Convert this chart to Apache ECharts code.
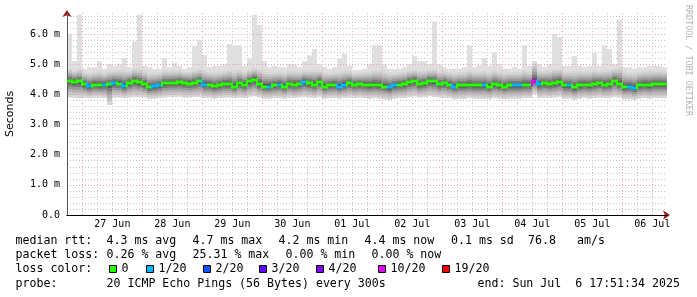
<!DOCTYPE html>
<html><head><meta charset="utf-8">
<script src="https://cdn.jsdelivr.net/npm/echarts@6/dist/echarts.min.js"></script>
<style>html,body{margin:0;padding:0;background:#fff}#c{width:697px;height:297px}</style>
</head><body><div id="c"></div>
<script>
// ---- data ----
const dayLabels = ['27 Jun','28 Jun','29 Jun','30 Jun','01 Jul','02 Jul','03 Jul','04 Jul','05 Jul','06 Jul'];
const firstMidnightH = 6.1406;   // hours from graph start (Jun 26 17:51:34) to Jun 27 00:00
const spanH = 240;               // 10 days shown
const binH = 2;                  // each column = 2 hours
const yTickValues = [0, 1, 2, 3, 4, 5, 6];
const yMax = 6.7;

const median = [
 4.45,4.41,4.43,4.33,4.27,4.32,4.30,4.32,4.33,4.38,
 4.36,4.28,4.38,4.45,4.40,4.33,4.24,4.27,4.30,4.37,
 4.38,4.38,4.40,4.38,4.36,4.38,4.43,4.32,4.32,4.27,
 4.30,4.34,4.34,4.26,4.37,4.32,4.43,4.49,4.34,4.26,
 4.26,4.30,4.32,4.26,4.34,4.32,4.34,4.41,4.37,4.32,
 4.41,4.26,4.30,4.32,4.26,4.32,4.37,4.32,4.34,4.32,
 4.30,4.32,4.30,4.26,4.23,4.30,4.32,4.34,4.41,4.45,
 4.34,4.37,4.45,4.43,4.34,4.37,4.32,4.26,4.30,4.30,
 4.32,4.30,4.30,4.30,4.26,4.34,4.30,4.26,4.30,4.30,
 4.30,4.32,4.32,4.45,4.34,4.37,4.34,4.37,4.41,4.30,
 4.30,4.23,4.30,4.32,4.30,4.34,4.37,4.32,4.34,4.45,
 4.36,4.23,4.26,4.21,4.30,4.32,4.30,4.34,4.34,4.34
];
const lossCount = [
 0,0,0,0,1,0,0,1,0,1,
 0,1,0,0,0,0,0,1,1,0,
 0,0,0,0,0,0,0,1,0,0,
 0,0,0,0,0,0,0,0,0,0,
 1,0,1,0,0,0,0,1,0,0,
 0,0,0,0,1,1,0,0,0,0,
 0,0,0,0,1,1,0,0,0,0,
 0,0,0,0,0,0,0,1,0,0,
 0,0,0,1,0,0,0,0,0,1,
 1,0,0,10,1,0,0,0,0,0,
 1,0,0,0,0,0,0,0,0,0,
 0,0,1,1,0,0,0,0,0,0
];
const smokeMax = [
 6.00,5.10,6.64,4.85,4.90,4.90,5.10,4.85,5.00,4.95,
 5.00,5.20,4.90,5.75,6.64,4.95,4.90,4.85,4.85,5.20,
 4.90,5.05,4.95,4.85,4.90,5.60,5.80,5.30,4.90,4.95,
 4.95,5.00,5.67,5.63,5.63,4.95,5.20,6.64,6.30,5.10,
 4.90,4.95,4.90,4.90,5.00,5.00,4.90,5.10,5.30,5.50,
 5.00,4.90,4.85,4.90,5.20,5.35,4.95,4.80,4.80,4.85,
 5.00,5.63,5.63,5.00,4.85,4.85,4.85,4.90,5.00,5.27,
 5.10,5.10,5.00,6.42,5.00,4.90,4.85,4.85,4.85,4.90,
 5.63,4.90,4.97,5.20,4.95,5.40,5.00,4.85,4.85,4.90,
 4.85,5.63,4.95,5.10,5.00,4.90,5.00,6.00,5.90,4.95,
 4.95,5.27,4.95,4.90,4.95,5.38,4.95,5.63,5.50,5.00,
 6.48,4.90,4.90,4.85,4.90,4.90,4.95,4.95,4.95,4.90
];
const smokeHi = [
 4.85,4.80,4.85,4.75,4.72,4.75,4.78,4.72,4.78,4.80,
 4.80,4.82,4.78,4.85,4.85,4.78,4.72,4.72,4.74,4.80,
 4.78,4.80,4.80,4.76,4.76,4.82,4.85,4.80,4.75,4.74,
 4.76,4.78,4.82,4.80,4.82,4.76,4.82,4.88,4.85,4.76,
 4.74,4.75,4.76,4.74,4.78,4.78,4.76,4.80,4.80,4.82,
 4.80,4.74,4.72,4.74,4.76,4.78,4.78,4.72,4.72,4.74,
 4.76,4.80,4.80,4.76,4.72,4.72,4.74,4.76,4.80,4.82,
 4.80,4.80,4.82,4.85,4.78,4.78,4.74,4.72,4.74,4.74,
 4.80,4.76,4.76,4.78,4.74,4.80,4.76,4.72,4.74,4.74,
 4.74,4.80,4.76,5.05,4.80,4.78,4.80,4.85,4.85,4.76,
 4.76,4.78,4.78,4.76,4.78,4.82,4.78,4.82,4.82,4.85,
 4.90,4.76,4.72,4.72,4.76,4.78,4.80,4.80,4.80,4.78
];
const smokeLo = [
 3.90,3.90,3.88,3.90,3.88,3.90,3.90,3.88,3.65,3.90,
 3.90,3.88,3.90,3.92,3.92,3.90,3.86,3.86,3.88,3.90,
 3.92,3.92,3.92,3.90,3.90,3.92,3.92,3.88,3.88,3.86,
 3.88,3.90,3.90,3.88,3.90,3.88,3.92,3.94,3.90,3.86,
 3.86,3.88,3.88,3.86,3.90,3.88,3.90,3.92,3.90,3.88,
 3.92,3.86,3.88,3.88,3.86,3.88,3.90,3.88,3.90,3.88,
 3.86,3.88,3.86,3.84,3.82,3.86,3.88,3.88,3.92,3.94,
 3.90,3.92,3.94,3.92,3.90,3.90,3.88,3.84,3.86,3.86,
 3.88,3.86,3.86,3.86,3.84,3.88,3.86,3.84,3.86,3.86,
 3.86,3.88,3.88,4.02,3.88,3.90,3.88,3.90,3.92,3.86,
 3.86,3.82,3.86,3.88,3.86,3.88,3.90,3.88,3.88,3.92,
 3.90,3.84,3.84,3.82,3.86,3.88,3.86,3.88,3.88,3.88
];
const lossLegend = [
 {n:0, label:'0', color:'#26ff00'},
 {n:1, label:'1/20', color:'#00b8ff'},
 {n:2, label:'2/20', color:'#0059ff'},
 {n:3, label:'3/20', color:'#5e00ff'},
 {n:4, label:'4/20', color:'#7e00ff'},
 {n:10, label:'10/20', color:'#dd00ff'},
 {n:19, label:'19/20', color:'#ff0000'}
];
const statLine1 = ['median rtt:', '4.3 ms avg', '4.7 ms max', '4.2 ms min', '4.4 ms now', '0.1 ms sd', '76.8', 'am/s'];
const statLine2 = ['packet loss:', '0.26 % avg', '25.31 % max', '0.00 % min', '0.00 % now'];
const probeLine = ['probe:', '20 ICMP Echo Pings (56 Bytes) every 300s'];
const endLine = 'end: Sun Jul  6 17:51:34 2025';
const lossColorTitle = 'loss color:';
const watermark = 'RRDTOOL / TOBI OETIKER';

// ---- derived tick positions ----
const midnights = dayLabels.map((d, k) => firstMidnightH + 24 * k);
const noons = dayLabels.map((d, k) => firstMidnightH + 12 + 24 * k);
const sixHours = [];
for (let v = firstMidnightH - 6; v <= spanH; v += 6) {
  if (v >= 0 && Math.abs(((v - firstMidnightH) % 24 + 24) % 24) > 1e-6) sixHours.push(v);
}
const yMinor = [];
for (let k = 1; k * 0.2 < yMax; k++) { if (k % 5 !== 0) yMinor.push(+(k * 0.2).toFixed(1)); }

function lossColor(n) {
  for (const l of lossLegend) { if (n <= l.n) return l.color; }
  return '#ff0000';
}
const shades = ['#d6d6d6', '#c6c6c6', '#b2b2b2', '#999999', '#7a7a7a', '#575757'];
const mono = 'DejaVu Sans Mono';
const FONT = '11.6px "DejaVu Sans Mono"';

const chart = echarts.init(document.getElementById('c'), null, {renderer: 'canvas'});
const binData = median.map((m, i) => [i * binH, (i + 1) * binH, m, smokeLo[i], smokeMax[i]]);

function renderSmoke(params, api) {
  const i = params.dataIndex;
  const x0 = Math.round(api.coord([i * binH, 0])[0]);
  const x1 = Math.round(api.coord([(i + 1) * binH, 0])[0]);
  const yOf = v => api.coord([0, v])[1];
  const m = median[i], lo = smokeLo[i], hi = smokeHi[i], mx = smokeMax[i];
  const children = [];
  children.push({type: 'rect', shape: {x: x0, y: yOf(mx), width: x1 - x0, height: yOf(lo) - yOf(mx)}, style: {fill: '#dfdfdf'}});
  for (let k = 0; k < shades.length; k++) {
    const f = 1 - k / shades.length;
    const top = m + (hi - m) * f, bot = m - (m - lo) * f;
    children.push({type: 'rect', shape: {x: x0, y: yOf(top), width: x1 - x0, height: yOf(bot) - yOf(top)}, style: {fill: shades[k]}});
  }
  return {type: 'group', children};
}
function renderMedian(params, api) {
  const i = params.dataIndex;
  const x0 = Math.round(api.coord([i * binH, 0])[0]);
  const x1 = Math.round(api.coord([(i + 1) * binH, 0])[0]);
  const yOf = v => Math.round(api.coord([0, v])[1]);
  const y = yOf(median[i]);
  const col = lossColor(lossCount[i]);
  const children = [{type: 'rect', shape: {x: x0, y: y - 1.5, width: x1 - x0, height: 3}, style: {fill: col}}];
  if (i > 0) {
    const yp = yOf(median[i - 1]);
    if (yp !== y) {
      const a = Math.min(yp, y), b = Math.max(yp, y);
      children.push({type: 'rect', shape: {x: x0 - 1, y: a - 1.5, width: 2, height: b - a + 3}, style: {fill: col}});
    }
  }
  return {type: 'group', children};
}

const graphics = [];
function txt(t, x, y) {
  graphics.push({type: 'text', x: x, y: y, style: {text: t, font: FONT, fill: '#000', verticalAlign: 'middle'}});
}
const line1X = [15.5, 106.5, 192.5, 278.5, 364.5, 451, 528, 577];
statLine1.forEach((t, k) => txt(t, line1X[k], 241));
const line2X = [15.5, 106.5, 192.5, 285.5, 371.5];
statLine2.forEach((t, k) => txt(t, line2X[k], 255.2));
txt(lossColorTitle, 15.5, 269.4);
const sqX = [109, 146, 203, 259, 316, 378, 442];
lossLegend.forEach((l, k) => {
  graphics.push({type: 'rect', shape: {x: sqX[k] + 0.5, y: 265.5, width: 7, height: 7}, style: {fill: l.color, stroke: '#000', lineWidth: 1}});
  txt(l.label, sqX[k] + 12.5, 269.4);
});
txt(probeLine[0], 15.5, 283.5);
txt(probeLine[1], 106.5, 283.5);
txt(endLine, 477.5, 283.5);
graphics.push({type: 'text', x: 688, y: 5, rotation: -Math.PI / 2, style: {text: watermark, font: '8.4px "DejaVu Sans Mono"', fill: '#b4b4b4', verticalAlign: 'middle', align: 'left'}});

const option = {
  animation: false,
  backgroundColor: '#ffffff',
  grid: {left: 67, right: 30, top: 13, bottom: 82, containLabel: false, outerBoundsMode: 'none'},
  xAxis: [
    {type: 'value', min: 0, max: spanH, position: 'bottom', z: 3,
     axisLine: {show: true, onZero: false, lineStyle: {color: '#000', width: 1}},
     axisTick: {show: false, customValues: midnights},
     axisLabel: {customValues: noons, margin: 4, fontFamily: mono, fontSize: 10, color: '#000',
       formatter: v => dayLabels[Math.round((v - firstMidnightH - 12) / 24)]},
     splitLine: {show: true, lineStyle: {color: '#e6a3a3', type: [1, 2], width: 1}}},
    {type: 'value', min: 0, max: spanH, position: 'bottom', z: 1,
     axisLine: {show: true, onZero: false, symbol: ['none', 'arrow'], symbolSize: [7, 7], symbolOffset: [0, 3], lineStyle: {color: '#a01818'}},
     axisTick: {show: false, customValues: sixHours},
     axisLabel: {show: false},
     splitLine: {show: true, lineStyle: {color: '#c4c4c4', type: [1, 2], width: 1}}}
  ],
  yAxis: [
    {type: 'value', min: 0, max: yMax, position: 'left', z: 3,
     name: 'Seconds', nameLocation: 'middle', nameRotate: 90, nameGap: 51,
     nameTextStyle: {fontFamily: 'DejaVu Sans', fontSize: 11, color: '#000'},
     axisLine: {show: true, lineStyle: {color: '#555', width: 1}},
     axisTick: {show: false, customValues: yTickValues},
     axisLabel: {customValues: yTickValues, margin: 7, fontFamily: mono, fontSize: 10, color: '#000',
       formatter: v => v === 0 ? '0.0' : v.toFixed(1) + ' m'},
     splitLine: {show: true, lineStyle: {color: '#e6a3a3', type: [1, 2], width: 1}}},
    {type: 'value', min: 0, max: yMax, position: 'left', z: 1,
     axisLine: {show: true, symbol: ['none', 'arrow'], symbolSize: [7, 7], symbolOffset: [0, 3], lineStyle: {color: '#a01818'}},
     axisTick: {show: false, customValues: yMinor},
     axisLabel: {show: false},
     splitLine: {show: true, lineStyle: {color: '#c4c4c4', type: [1, 2], width: 1}}}
  ],
  series: [
    {type: 'custom', name: 'smoke', xAxisIndex: 0, yAxisIndex: 0, clip: true, z: 2,
     encode: {x: [0, 1], y: [3, 4]}, data: binData, renderItem: renderSmoke},
    {type: 'custom', name: 'median', xAxisIndex: 0, yAxisIndex: 0, clip: true, z: 4,
     encode: {x: [0, 1], y: 2}, data: binData, renderItem: renderMedian}
  ],
  graphic: graphics
};
chart.setOption(option);
</script></body></html>
